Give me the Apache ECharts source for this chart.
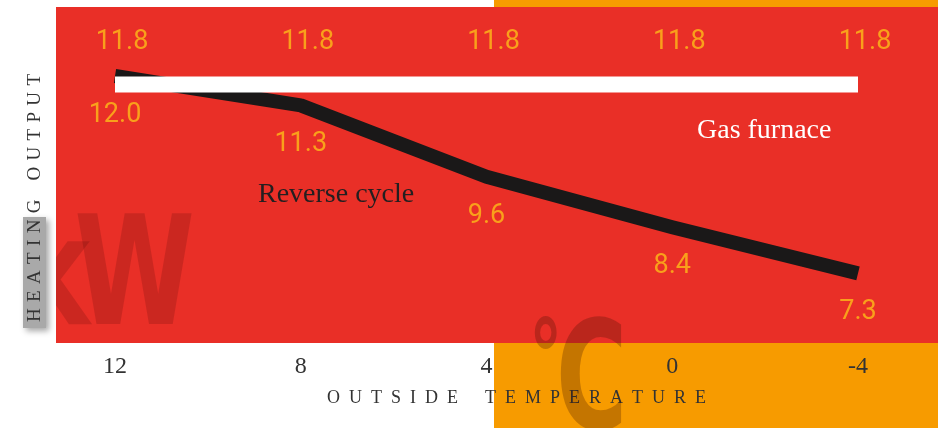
<!DOCTYPE html>
<html>
<head>
<meta charset="utf-8">
<script src="https://cdn.jsdelivr.net/npm/echarts@6/dist/echarts.min.js"></script>
<style>html,body{margin:0;padding:0;background:#fff;}#c{width:938px;height:428px;}</style>
</head>
<body>
<div id="c"></div>
<script>
var temperatures = ['12', '8', '4', '0', '-4'];
var reverseCycle = [12.0, 11.3, 9.6, 8.4, 7.3];
var gasFurnace = [11.8, 11.8, 11.8, 11.8, 11.8];

var chart = echarts.init(document.getElementById('c'));
var numFont = '"Liberation Sans Narrow", "Roboto", sans-serif';
var serif = '"Liberation Serif", "DejaVu Serif", serif';
var heavy = '"DejaVu Sans Condensed", "DejaVu Sans", sans-serif';
function spaced(s, g, wg){ return s.split(' ').map(function(w){return w.split('').join(g);}).join(wg); }
var ghost = 'rgba(60,0,0,0.17)';
var ghostC = 'rgba(60,15,0,0.27)';
var ghostShadow = { shadowBlur: 10, shadowColor: 'rgba(0,0,0,0.22)', shadowOffsetX: 4, shadowOffsetY: 4 };
function st(o){ var r = {}; for (var k in ghostShadow) r[k] = ghostShadow[k]; for (var k2 in o) r[k2] = o[k2]; return r; }

chart.setOption({
  animation: false,
  backgroundColor: '#ffffff',
  grid: { left: 115, right: 80, top: 13, bottom: 79 },
  xAxis: {
    type: 'category',
    data: temperatures,
    boundaryGap: false,
    axisLine: { show: false },
    axisTick: { show: false },
    axisLabel: { margin: 6, fontFamily: serif, fontSize: 24, color: '#333333' },
    name: spaced('OUTSIDE TEMPERATURE', '\u2002', '\u2002\u2002\u2002'),
    nameLocation: 'middle',
    nameGap: 40,
    nameTextStyle: { fontFamily: serif, fontSize: 18, color: '#333333', padding: [0, 0, 0, 60] }
  },
  yAxis: {
    type: 'value',
    min: 5.5,
    max: 13.5,
    axisLine: { show: false },
    axisTick: { show: false },
    axisLabel: { show: false },
    splitLine: { show: false },
    name: spaced('HEATING OUTPUT', '\u2004', '\u2004\u2004\u2004'),
    nameLocation: 'middle',
    nameRotate: 90,
    nameGap: 70,
    nameTextStyle: { fontFamily: serif, fontSize: 19, color: '#333333', padding: [0, 34, 0, 0] }
  },
  graphic: [
    { type: 'rect', z: -10, shape: { x: 494, y: 0, width: 444, height: 428 }, style: { fill: '#f79b00' } },
    { type: 'rect', z: -9, shape: { x: 56, y: 7, width: 882, height: 336 }, style: { fill: '#e92f27' } },
    { type: 'text', z: -8, x: 195, y: 285, scaleX: 0.8, style: st({ text: 'W', font: 'bold 152px ' + heavy, fill: ghost, align: 'right', verticalAlign: 'middle' }) },
    { type: 'text', z: -8, x: 90, y: 285, scaleX: 0.8, style: st({ text: 'k', font: 'bold 152px ' + heavy, fill: ghost, align: 'right', verticalAlign: 'middle' }) },
    { type: 'rect', z: -7, shape: { x: 0, y: 150, width: 56, height: 193 }, style: { fill: '#ffffff' } },
    { type: 'rect', z: -6, shape: { x: 23, y: 217, width: 23, height: 111 }, style: { fill: '#a9a9a9', shadowBlur: 6, shadowColor: 'rgba(0,0,0,0.35)', shadowOffsetX: 3, shadowOffsetY: 3 } },
    { type: 'text', z: 100, x: 529, y: 366, scaleX: 0.62, scaleY: 0.85, style: st({ text: '\u00b0', font: 'bold 120px ' + heavy, fill: ghostC, align: 'left', verticalAlign: 'middle' }) },
    { type: 'text', z: 100, x: 556, y: 390, scaleX: 0.71, style: st({ text: 'C', font: 'bold 152px ' + heavy, fill: ghostC, align: 'left', verticalAlign: 'middle' }) },
    { type: 'text', z: 50, x: 258, y: 195, style: { text: 'Reverse cycle', font: '28px ' + serif, fill: '#231f20', verticalAlign: 'middle' } },
    { type: 'text', z: 50, x: 697, y: 131, style: { text: 'Gas furnace', font: '28px ' + serif, fill: '#ffffff', verticalAlign: 'middle' } }
  ],
  series: [
    {
      name: 'Reverse cycle',
      type: 'line',
      data: reverseCycle,
      symbol: 'circle',
      symbolSize: 1,
      itemStyle: { color: 'rgba(0,0,0,0)' },
      z: 3,
      lineStyle: { color: '#1a1818', width: 14, cap: 'butt', join: 'round' },
      label: { show: true, position: 'bottom', distance: 25, fontFamily: numFont, fontSize: 27, color: '#f9a01b', formatter: function(p){ return p.value.toFixed(1); } }
    },
    {
      name: 'Gas furnace',
      type: 'line',
      data: gasFurnace,
      symbol: 'circle',
      symbolSize: 1,
      itemStyle: { color: 'rgba(0,0,0,0)' },
      z: 4,
      lineStyle: { color: '#ffffff', width: 16, cap: 'butt' },
      label: { show: true, position: 'top', distance: 28, offset: [7, 0], fontFamily: numFont, fontSize: 27, color: '#f9a01b', formatter: function(p){ return p.value.toFixed(1); } }
    }
  ]
});
</script>
</body>
</html>
